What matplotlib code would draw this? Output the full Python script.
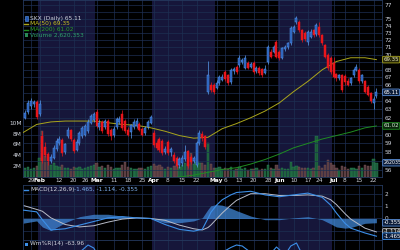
import matplotlib
matplotlib.use('Agg')
import matplotlib.pyplot as plt
import matplotlib.transforms as mtransforms
from matplotlib.patches import Rectangle
from matplotlib.lines import Line2D
from matplotlib.ticker import NullLocator, NullFormatter
import numpy as np

# SKX daily candles, trading day index: 0 = 1 Feb 2024, first bar = 25 Jan 2024
first_day = -5
opens = [62.0, 62.7, 63.4, 63.7, 63.9,
         62.4, 59.9, 58.6, 57.8, 57.0, 57.4, 58.4, 59.0, 59.4, 58.0,
         59.8, 60.5, 59.4, 58.3, 59.0, 59.8, 60.0, 60.4, 61.4, 61.7,
         62.7, 60.9, 61.5, 60.9, 61.6, 60.5, 60.0, 60.9, 61.5, 62.5,
         61.6, 60.6, 60.3, 60.9, 61.0, 61.3, 60.7, 60.2, 60.9, 61.4,
         60.2, 59.0, 59.5, 59.3, 58.0, 59.2, 58.0, 57.7, 57.4, 56.6,
         56.8, 57.2, 58.1, 57.5, 57.0, 56.6, 59.0, 60.1, 59.8, 65.2,
         66.1, 66.0, 65.7, 66.3, 66.7, 67.7, 67.3, 66.4, 67.8, 68.4,
         68.6, 69.0, 68.3, 68.9, 68.4, 68.9, 67.8, 68.3, 68.1, 67.6,
         69.0, 70.4, 70.4, 71.7, 70.4, 69.6, 70.8, 71.0, 71.6, 73.2,
         74.5, 74.6, 73.4, 73.0, 71.7, 72.5, 73.4, 72.8, 73.9, 72.7,
         71.3, 70.0, 69.6, 68.9, 67.4, 66.9, 67.3, 67.2, 66.6, 66.3,
         67.3, 68.0, 68.0, 66.5, 66.5, 65.8, 65.0, 63.8, 64.6]
highs = [62.9, 64.2, 64.4, 64.2, 64.1,
         64.1, 60.4, 59.2, 58.0, 57.8, 58.8, 59.6, 59.8, 59.6, 59.1,
         60.9, 60.7, 59.6, 59.5, 60.4, 61.0, 61.3, 61.8, 62.4, 62.7,
         63.0, 61.8, 61.7, 61.8, 61.8, 60.8, 61.0, 62.1, 62.2, 62.9,
         61.8, 60.9, 61.3, 61.8, 62.0, 61.5, 60.9, 61.0, 61.7, 62.3,
         60.5, 59.4, 59.7, 59.5, 58.7, 59.4, 58.6, 58.0, 57.6, 57.5,
         57.7, 58.8, 58.3, 57.8, 57.6, 59.3, 60.6, 60.4, 60.0, 69.1,
         66.4, 66.3, 66.7, 67.3, 67.4, 68.0, 67.5, 68.3, 68.4, 68.6,
         70.0, 69.6, 70.0, 69.1, 69.0, 69.1, 68.5, 68.5, 68.3, 68.6,
         71.3, 70.8, 71.3, 72.0, 70.6, 71.1, 71.4, 71.8, 74.0, 74.2,
         75.4, 74.9, 73.6, 73.3, 73.4, 73.5, 73.6, 74.4, 74.6, 72.9,
         71.5, 70.2, 69.8, 69.7, 67.6, 67.5, 67.5, 67.5, 66.9, 67.0,
         68.2, 68.7, 68.2, 67.5, 66.7, 66.0, 65.2, 64.6, 65.7]
lows = [61.8, 62.5, 63.1, 63.3, 61.8,
        62.2, 56.8, 57.5, 56.6, 56.8, 57.2, 58.1, 58.8, 57.6, 57.8,
        59.6, 59.3, 57.9, 58.1, 58.8, 59.6, 59.8, 60.2, 61.2, 61.5,
        60.8, 60.6, 60.2, 60.7, 59.9, 59.4, 59.7, 60.7, 61.3, 60.6,
        60.2, 59.8, 59.6, 60.7, 60.8, 60.4, 59.8, 60.0, 60.7, 61.2,
        58.6, 58.2, 58.0, 57.7, 57.8, 57.7, 57.6, 56.8, 56.3, 56.3,
        56.5, 57.0, 56.3, 56.7, 56.8, 56.4, 58.8, 59.3, 58.4, 64.9,
        65.1, 64.9, 65.5, 66.1, 66.5, 66.5, 66.1, 66.2, 67.5, 67.5,
        68.4, 68.8, 68.1, 68.1, 68.2, 67.5, 67.6, 67.3, 67.0, 67.4,
        68.8, 69.5, 70.2, 69.5, 69.3, 69.4, 70.5, 70.8, 71.4, 73.0,
        74.3, 73.2, 71.8, 71.9, 71.3, 72.3, 72.4, 72.6, 72.5, 71.4,
        69.5, 68.0, 67.4, 66.9, 66.6, 66.7, 65.2, 66.0, 65.9, 66.1,
        67.0, 67.8, 66.3, 66.3, 65.0, 64.6, 63.8, 63.0, 64.4]
closes = [62.6, 63.8, 64.0, 63.9, 62.1,
          63.7, 57.0, 57.7, 57.0, 57.5, 58.5, 59.3, 59.5, 57.9, 58.9,
          60.6, 59.5, 58.1, 59.2, 60.2, 60.8, 61.0, 61.5, 62.2, 62.4,
          61.0, 61.4, 60.4, 61.6, 60.1, 59.9, 60.7, 61.9, 61.9, 60.8,
          60.4, 60.0, 61.1, 61.5, 61.6, 60.6, 60.0, 60.8, 61.5, 62.1,
          58.8, 58.5, 58.3, 57.9, 58.4, 57.9, 58.4, 57.0, 56.5, 57.3,
          57.4, 58.0, 56.5, 56.9, 57.4, 59.0, 60.2, 59.6, 58.6, 67.3,
          65.4, 65.2, 66.3, 67.0, 67.1, 66.8, 66.3, 68.0, 68.1, 67.7,
          69.6, 69.3, 69.6, 68.3, 68.8, 67.7, 68.2, 67.6, 67.3, 68.1,
          71.0, 69.7, 71.0, 69.7, 69.6, 70.9, 71.1, 71.6, 73.7, 73.9,
          75.1, 73.4, 72.0, 72.1, 73.1, 73.2, 72.7, 74.1, 72.7, 71.6,
          69.7, 68.3, 67.7, 67.1, 66.9, 67.3, 65.4, 66.4, 66.1, 66.9,
          68.0, 68.4, 66.5, 67.3, 65.2, 64.8, 64.0, 64.3, 65.11]
# volume in millions of shares
volumes = [1.6, 1.8, 1.5, 1.7, 2.0,
           3.5, 8.4, 3.8, 2.8, 2.2, 2.6, 2.0, 1.8, 2.2, 1.6,
           1.7, 1.5, 1.8, 1.6, 1.9, 1.5, 1.7, 1.9, 2.1, 2.3,
           2.6, 1.8, 2.0, 1.6, 2.2, 1.9, 1.5, 1.7, 1.6, 2.3,
           2.8, 1.8, 1.6, 1.4, 1.5, 1.7, 1.6, 1.5, 1.8, 2.0,
           2.4, 2.0, 2.2, 1.9, 1.5, 1.8, 1.6, 2.0, 2.1, 1.9,
           2.2, 2.5, 2.4, 4.5, 2.4, 2.8, 2.6, 2.6, 2.3, 6.3,
           2.4, 1.7, 1.6, 1.9, 1.5, 1.6, 1.4, 1.8, 1.3, 1.4,
           1.9, 1.4, 1.7, 1.3, 1.5, 1.4, 1.6, 1.3, 1.5, 1.4,
           2.2, 1.6, 1.5, 2.2, 1.5, 1.6, 1.4, 1.5, 2.8, 1.8,
           2.0, 1.9, 1.7, 1.6, 1.7, 1.5, 1.6, 7.5, 2.0, 1.7,
           2.2, 3.1, 2.5, 2.3, 1.6, 1.2, 2.0, 1.8, 1.5, 1.6,
           1.7, 1.4, 2.1, 1.6, 2.2, 2.1, 2.0, 3.4, 2.62]

# moving averages
ma50_days = [-6, -1, 4, 9, 14, 19, 24, 29, 34, 39, 44, 49, 54, 59, 64, 69, 74, 79, 84, 89, 94, 99, 104, 109, 114, 118]
ma50_vals = [60.2, 61.2, 61.5, 61.6, 61.6, 61.6, 61.4, 61.2, 61.1, 60.8, 60.4, 59.9, 59.6, 59.7, 60.7, 61.3,
             62.0, 62.8, 63.8, 65.2, 66.5, 68.0, 69.1, 69.6, 69.6, 69.35]
ma200_days = [39, 44, 49, 54, 59, 64, 69, 74, 79, 84, 89, 94, 99, 104, 109, 114, 118]
ma200_vals = [54.9, 55.1, 55.3, 55.5, 55.8, 56.1, 56.3, 56.7, 57.2, 57.8, 58.5, 59.0, 59.5, 59.9, 60.3, 60.8, 61.02]

# MACD(12,26,9)
macd_days = [-6, -1, 1, 4, 9, 14, 19, 24, 29, 34, 39, 44, 49, 54, 57, 59, 60, 62, 64, 67,
             69, 74, 79, 84, 89, 94, 99, 102, 104, 107, 109, 114, 118]
macd_vals = [0.70, 0.55, -0.10, -0.95, -0.85, -0.55, -0.25, 0.05, 0.15, 0.05, 0.00, -0.50, -0.90, -1.05,
             -0.90, 0.00, 0.50, 1.10, 1.55, 1.95, 2.15, 2.25, 1.95, 1.80, 1.95, 2.10, 1.75, 1.10, 0.45,
             -0.40, -0.80, -1.20, -1.465]
signal_vals = [1.10, 0.75, 0.60, 0.05, -0.50, -0.70, -0.60, -0.30, -0.05, 0.05, 0.00, -0.15, -0.55, -0.85,
               -0.95, -0.75, -0.55, -0.05, 0.45, 1.10, 1.50, 2.05, 2.05, 1.90, 1.90, 1.95, 1.85, 1.55, 1.15,
               0.40, -0.05, -0.80, -1.114]

# Williams %R(14), only the top of the panel is visible
wmr_days = [-6, 0, 4, 10, 15, 17, 19, 22, 28, 34, 39, 45, 55, 59, 63, 67, 69, 71, 74, 79, 83, 86, 88, 90,
            93, 97, 101, 106, 111, 115, 118]
wmr_vals = [-40, -45, -90, -40, -20, -10, -16, -45, -40, -35, -30, -85, -60, -30, -28, -15, -10, -12, -25,
            -40, -14, -30, -12, -6, -40, -30, -80, -90, -55, -90, -63.96]

tick_days = [-3, 0, 7, 12, 16, 20, 26, 31, 36, 40, 45, 50, 55, 62, 65, 70, 75, 80, 84, 89, 94, 98, 103, 107, 112, 117]
tick_labels = ['29', 'Feb', '12', '20', '26', 'Mar', '11', '18', '25', 'Apr', '8', '15', '22',
               'May', '6', '13', '20', '28', 'Jun', '10', '17', '24', 'Jul', '8', '15', '22']
month_names = ['Feb', 'Mar', 'Apr', 'May', 'Jun', 'Jul']
shade_start = [0, 40, 84]   # Feb, Apr, Jun
shade_end = [19, 61, 102]

# labels under the value boxes (57, 61, 65, 69) are covered in the original
price_ticks = [56, 58, 59, 60, 62, 63, 64, 66, 67, 68, 70, 71, 72, 73, 74, 75, 77]
grid_prices = list(range(56, 78))
vol_ticks = [2, 4, 6, 8, 10]
macd_ticks = [0, 1, 2]

SHADE = '#16163a'
GRID = '#1d2f52'
UP = '#2459b4'
UP_EDGE = '#5a9cf0'
DOWN = '#e8161c'
TXT = '#cfd3dc'
MA50_C = '#aaa61c'
MA200_C = '#1f8c22'
FS = 4.2

x = np.arange(first_day, first_day + len(closes))
x_lim = (-5.78, 119.96)
L, W = 23 / 400, 359 / 400


def px(xp, yp):
    return xp / 400, 1 - yp / 250


def setup_panel(ax):
    ax.set_facecolor('black')
    ax.set_xlim(*x_lim)
    for s0, s1 in zip(shade_start, shade_end):
        ax.axvspan(s0 - 0.5, s1 + 0.5, color=SHADE, lw=0, zorder=0)
    for d in tick_days:
        ax.axvline(d, color=GRID, lw=0.5, zorder=0.5)
    for sp in ax.spines.values():
        sp.set_color('#25395e')
        sp.set_linewidth(0.6)
    ax.tick_params(length=0, labelsize=FS, colors=TXT, pad=1)


def right_box(ax, y, text, edge, face, color='white', size=3.9):
    tr = mtransforms.blended_transform_factory(ax.transAxes, ax.transData)
    ax.text(1.004, y, text, transform=tr, ha='left', va='center', fontsize=size, color=color,
            bbox=dict(boxstyle='round,pad=0.15', fc=face, ec=edge, lw=0.6), clip_on=False, zorder=10)


fig = plt.figure(figsize=(4, 2.5), dpi=100, facecolor='black')

# ---- price + volume panel
ax_v = fig.add_axes([L, 1 - 177 / 250, W, 177 / 250])
setup_panel(ax_v)
up = np.array(closes) >= np.array(opens)
ax_v.bar(x, volumes, width=0.8, color=np.where(up, '#1c5a3a', '#553a3e'),
         edgecolor=np.where(up, '#2a8a55', '#7a5559'), lw=0.3, zorder=1)
ax_v.set_ylim(0, 32.6)
ax_v.set_yticks(vol_ticks)
ax_v.set_yticklabels([f'{v}M' for v in vol_ticks])
ax_v.set_xticks(tick_days)
ax_v.set_xticklabels(tick_labels)
for lab in ax_v.get_xticklabels():
    if lab.get_text() in month_names:
        lab.set_fontweight('bold')
        lab.set_color('white')

ax = ax_v.twinx()
ax.set_yscale('log')
ax.set_ylim(55.3, 77.8)
for p in grid_prices:
    ax.axhline(p, color=GRID, lw=0.5, zorder=0)
ax.plot(ma50_days, ma50_vals, color=MA50_C, lw=0.7, zorder=2)
ax.plot(ma200_days, ma200_vals, color=MA200_C, lw=0.7, zorder=2)

o = np.array(opens)
c = np.array(closes)
bottoms = np.minimum(o, c)
heights = np.maximum(np.abs(c - o), 0.08)
ax.vlines(x, lows, highs, colors=np.where(up, UP_EDGE, DOWN), lw=0.5, zorder=3)
ax.bar(x, heights, bottom=bottoms, width=0.7, color=np.where(up, UP, DOWN),
       edgecolor=np.where(up, UP_EDGE, DOWN), lw=0.35, zorder=4)

ax.yaxis.set_minor_locator(NullLocator())
ax.yaxis.set_minor_formatter(NullFormatter())
ax.set_yticks(price_ticks)
ax.set_yticklabels([str(p) for p in price_ticks])
ax.tick_params(axis='y', length=0, labelsize=FS, colors=TXT, pad=2)
for sp in ax.spines.values():
    sp.set_visible(False)

right_box(ax, 69.35, '69.35', MA50_C, '#26260a', '#f0f0c0')
right_box(ax, 65.11, '65.11', '#5a8fd8', '#0c1c38')
right_box(ax, 61.02, '61.02', MA200_C, '#0a260c', '#d8f0d8')
right_box(ax_v, 2.62, '2620353', '#5a8fd8', '#0c1c38', size=3.4)

# legend
fig.add_artist(Rectangle(px(24.5, 20.5), 3 / 400, 4 / 250, transform=fig.transFigure, fc=UP, ec=UP_EDGE, lw=0.4))
fig.text(*px(30, 18.5), 'SKX (Daily) 65.11', color=TXT, fontsize=FS, va='center')
fig.add_artist(Line2D([24 / 400, 28.5 / 400], [px(0, 24)[1]] * 2, transform=fig.transFigure, color=MA50_C, lw=1))
fig.text(*px(30, 24), 'MA(50) 69.35', color='#c8c020', fontsize=FS, va='center')
fig.add_artist(Line2D([24 / 400, 28.5 / 400], [px(0, 29.7)[1]] * 2, transform=fig.transFigure, color=MA200_C, lw=1))
fig.text(*px(30, 29.7), 'MA(200) 61.02', color='#2aa02a', fontsize=FS, va='center')
fig.add_artist(Rectangle(px(24.5, 37), 3.5 / 400, 4 / 250, transform=fig.transFigure, fc='#2a8a55', lw=0))
fig.text(*px(30, 35), 'Volume 2,620,353', color='#2ea06a', fontsize=FS, va='center')

# ---- MACD panel
ax_m = fig.add_axes([L, 10 / 250, W, 55 / 250])
setup_panel(ax_m)
ax_m.set_ylim(-1.78, 2.77)
for v in [-1, 0, 1, 2]:
    ax_m.axhline(v, color=GRID, lw=0.5, zorder=0.5)
hist = np.array(macd_vals) - np.array(signal_vals)
ax_m.fill_between(macd_days, 0, hist, color='#3f86d6', alpha=0.75, lw=0, zorder=1)
ax_m.plot(macd_days, signal_vals, color='#b8bcc8', lw=0.7, zorder=2)
ax_m.plot(macd_days, macd_vals, color='#3c8fe8', lw=0.8, zorder=3)
ax_m.set_xticks([])
ax_m.yaxis.tick_right()
ax_m.set_yticks(macd_ticks)
ax_m.set_yticklabels([str(v) for v in macd_ticks])
ax_m.tick_params(axis='y', pad=2)
right_box(ax_m, -0.355, '-0.355', '#5a8fd8', '#0c1c38')
right_box(ax_m, -1.114, '-1.114', '#c0c0c0', '#202020')
right_box(ax_m, -1.465, '-1.465', '#3c8fe8', '#0c1c38')
fig.add_artist(Line2D([24 / 400, 28.5 / 400], [px(0, 189.5)[1]] * 2, transform=fig.transFigure, color='#3c8fe8', lw=1))
fig.text(*px(30, 189.5), 'MACD(12,26,9)', color=TXT, fontsize=FS, va='center')
fig.text(*px(74, 189.5), '-1.465, -1.114, -0.355', color='#7fb0ee', fontsize=FS, va='center')

# ---- Williams %R panel (cut off at the bottom)
ax_w = fig.add_axes([L, 0, W, 10 / 250])
setup_panel(ax_w)
ax_w.set_ylim(-20, 0)
ax_w.plot(wmr_days, wmr_vals, color='#3c8fe8', lw=0.8, zorder=2)
ax_w.set_xticks([])
ax_w.set_yticks([])
fig.add_artist(Rectangle(px(24.5, 245.5), 3 / 400, 3 / 250, transform=fig.transFigure, fc='#3c8fe8', lw=0))
fig.text(*px(30, 243.5), 'Wm%R(14) -63.96', color=TXT, fontsize=FS, va='center')

fig.savefig('out.png', dpi=100, facecolor='black')
